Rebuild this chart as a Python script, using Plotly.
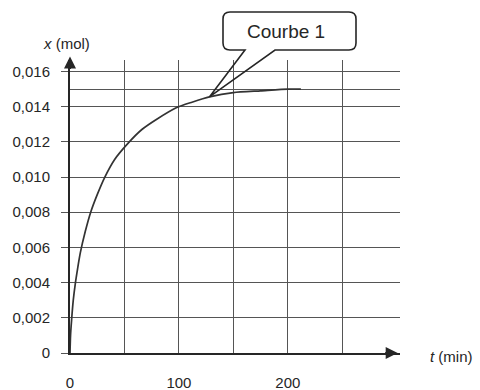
import plotly.graph_objects as go

# ---- data ----
t_min = [0, 0.5, 1.5, 3, 5, 7, 9.5, 14, 19, 25, 32, 41, 53, 66, 80, 98, 112, 128, 150, 175, 200, 212]
x_mol = [0, 0.0010, 0.0019, 0.0030, 0.0040, 0.0048, 0.0057, 0.0069, 0.0080, 0.0090, 0.0100,
         0.0110, 0.0119, 0.0127, 0.0133, 0.01395, 0.01425, 0.01455, 0.0148, 0.0149, 0.0150, 0.0150]

y_tickvals = [0, 0.002, 0.004, 0.006, 0.008, 0.010, 0.012, 0.014, 0.016]
y_ticktext = ["0", "0,002", "0,004", "0,006", "0,008", "0,010", "0,012", "0,014", "0,016"]
y_extra_grid = [0.015]
x_tickvals = [0, 50, 100, 150, 200, 250]
x_ticktext = ["0", "", "100", "", "200", ""]

callout_label = "Courbe 1"
callout_anchor = (128, 0.01455)   # point of the curve the callout points at

# ---- layout geometry ----
W, H = 480, 390
ML, MR, MT, MB = 70, 80, 60, 37
X_RANGE = [0, 303]
Y_RANGE = [0, 0.01665]
PW, PH = W - ML - MR, H - MT - MB

def px2paper(px, py):
    return (px - ML) / PW, (H - MB - py) / PH

def data2px(t, x):
    px = ML + (t - X_RANGE[0]) / (X_RANGE[1] - X_RANGE[0]) * PW
    py = H - MB - (x - Y_RANGE[0]) / (Y_RANGE[1] - Y_RANGE[0]) * PH
    return px, py

INK = "#262626"
GRID = "#555555"
FONT = "Liberation Sans, Arial, sans-serif"

fig = go.Figure()
fig.add_trace(go.Scatter(
    x=t_min, y=x_mol, mode="lines",
    line=dict(color="#333333", width=1.7, shape="spline", smoothing=0.6),
    hoverinfo="skip", showlegend=False,
))

fig.update_layout(
    width=W, height=H,
    margin=dict(l=ML, r=MR, t=MT, b=MB, autoexpand=False),
    paper_bgcolor="white", plot_bgcolor="white",
    font=dict(family=FONT, size=15, color=INK),
    showlegend=False,
)
fig.update_xaxes(
    range=X_RANGE, tickvals=x_tickvals, ticktext=x_ticktext,
    showgrid=True, gridcolor=GRID, gridwidth=1.4,
    showline=True, linecolor=INK, linewidth=2,
    ticks="", ticklabelstandoff=15, zeroline=False, automargin=False,
    tickfont=dict(size=15, color=INK),
)
fig.update_yaxes(
    range=Y_RANGE, tickvals=y_tickvals, ticktext=y_ticktext,
    showgrid=True, gridcolor=GRID, gridwidth=1.4,
    showline=True, linecolor=INK, linewidth=2,
    ticks="outside", ticklen=7, tickcolor=GRID, tickwidth=1.4,
    ticklabelstandoff=8, zeroline=False, automargin=False,
    tickfont=dict(size=15, color=INK),
    minor=dict(tickmode="array", tickvals=y_extra_grid, showgrid=True,
               gridcolor=GRID, gridwidth=1.4, ticks=""),
)

# axis arrows
fig.add_annotation(xref="x", yref="paper", x=0, y=1.012, ax=0, ay=14,
                   text="", showarrow=True, arrowhead=2, arrowsize=1.2,
                   arrowwidth=2, arrowcolor=INK)
fig.add_annotation(xref="paper", yref="y", x=0.993, y=0, ax=-14, ay=0,
                   text="", showarrow=True, arrowhead=2, arrowsize=1.2,
                   arrowwidth=2, arrowcolor=INK)

# axis titles
xx, yy = px2paper(66, 43)
fig.add_annotation(xref="paper", yref="paper", x=xx, y=yy, text="<i>x</i> (mol)",
                   xanchor="center", yanchor="middle",
                   showarrow=False, font=dict(size=15, color=INK))
xx, yy = px2paper(452, 356)
fig.add_annotation(xref="paper", yref="paper", x=xx, y=yy, text="<i>t</i> (min)",
                   xanchor="center", yanchor="middle",
                   showarrow=False, font=dict(size=15, color=INK))

# callout ("Courbe 1") as a rounded box with a triangular tail
tip = data2px(*callout_anchor)
bx0, bx1, by0, by1, r = 223, 356, 12, 50, 7
pts = [
    ("M", [(245, by1)]),
    ("L", [tip]),
    ("L", [(275, by1)]),
    ("L", [(bx1 - r, by1)]),
    ("Q", [(bx1, by1), (bx1, by1 - r)]),
    ("L", [(bx1, by0 + r)]),
    ("Q", [(bx1, by0), (bx1 - r, by0)]),
    ("L", [(bx0 + r, by0)]),
    ("Q", [(bx0, by0), (bx0, by0 + r)]),
    ("L", [(bx0, by1 - r)]),
    ("Q", [(bx0, by1), (bx0 + r, by1)]),
]
path = ""
for cmd, ps in pts:
    path += cmd + " " + " ".join("%.5f,%.5f" % px2paper(*p) for p in ps) + " "
path += "Z"
fig.add_shape(type="path", path=path, xref="paper", yref="paper",
              line=dict(color=INK, width=1.6), fillcolor="rgba(0,0,0,0)", layer="above")
xx, yy = px2paper((bx0 + bx1) / 2 - 4, (by0 + by1) / 2)
fig.add_annotation(xref="paper", yref="paper", x=xx, y=yy, text=callout_label,
                   xanchor="center", yanchor="middle",
                   showarrow=False, font=dict(size=19, color=INK))

fig.write_html("out.html", config={"displayModeBar": False},
               post_script="document.body.style.margin='0';")
